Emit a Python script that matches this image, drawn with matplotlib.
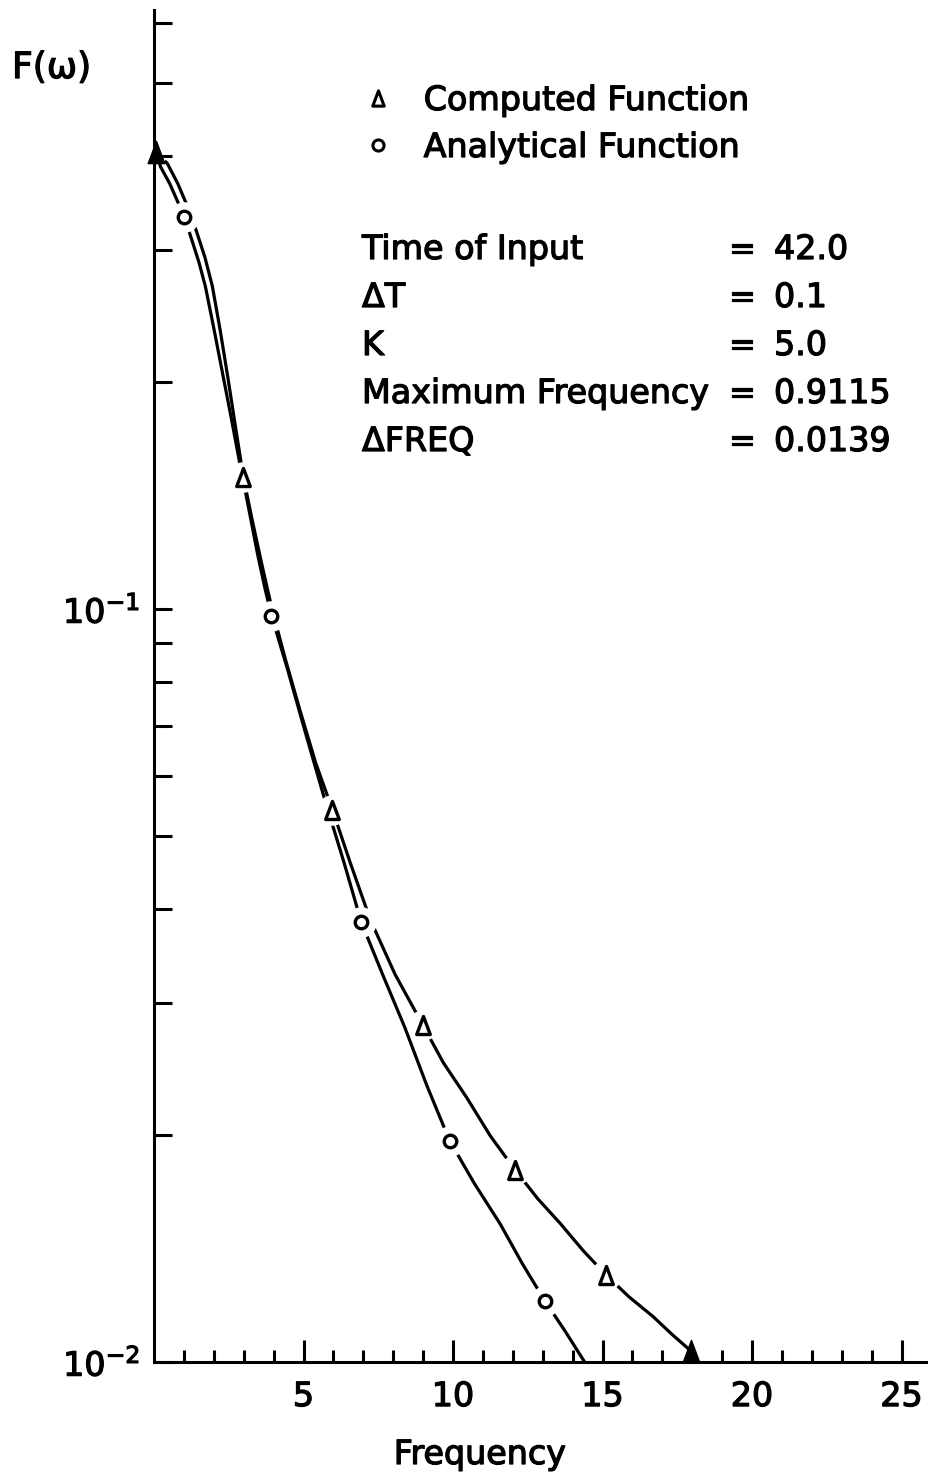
import matplotlib
matplotlib.use('Agg')
import matplotlib.pyplot as plt
import matplotlib.patheffects as pe
from matplotlib.lines import Line2D
from matplotlib.path import Path
from matplotlib.ticker import FixedLocator, LogFormatterMathtext

# ---- data ----
# computed function: curve and triangle markers
comp_curve_x = [0.075, 0.449, 0.794, 1.106, 1.421, 1.702, 1.951, 2.207, 2.467, 2.726,
                2.987, 3.276, 3.600, 3.959, 4.385, 4.880, 5.410, 5.969, 6.565, 7.230,
                8.061, 8.991, 9.679, 10.456, 11.252, 12.081, 12.836, 13.589, 14.343,
                15.123, 15.890, 16.690, 17.324, 17.958]
comp_curve_y = [0.4046, 0.3903, 0.3673, 0.3435, 0.3173, 0.2932, 0.2684, 0.2353, 0.2033, 0.1745,
                0.1498, 0.1317, 0.1149, 0.0995, 0.0860, 0.0734, 0.0624, 0.0541, 0.0460, 0.0387,
                0.03272, 0.02802, 0.02496, 0.02245, 0.01995, 0.01798, 0.01647, 0.01527, 0.01407,
                0.01304, 0.01220, 0.01149, 0.01088, 0.01034]
comp_tri_x = [0.075, 2.987, 5.969, 8.991, 12.081, 15.123, 17.958]
comp_tri_y = [0.4046, 0.1498, 0.0541, 0.02802, 0.01798, 0.01304, 0.01034]
comp_filled = [True, False, False, False, False, False, True]

# analytical function: curve and circle markers
anal_curve_x = [0.075, 0.217, 0.526, 0.804, 1.012, 1.258, 1.504, 1.717, 2.007, 2.298,
                2.589, 2.880, 3.170, 3.461, 3.713, 3.928, 4.457, 5.059, 5.695, 6.365,
                6.930, 7.660, 8.390, 9.122, 9.887, 10.714, 11.582, 12.307, 13.068,
                13.754, 14.401]
anal_curve_y = [0.4046, 0.3867, 0.3672, 0.3466, 0.3320, 0.3097, 0.2886, 0.2683, 0.2352, 0.2051,
                0.1788, 0.1553, 0.1358, 0.1184, 0.1064, 0.0980, 0.0834, 0.0686, 0.0561, 0.0459,
                0.0384, 0.0326, 0.0278, 0.0233, 0.01967, 0.01726, 0.01524, 0.01353, 0.01206,
                0.01098, 0.0100]
anal_circ_x = [1.012, 3.928, 6.930, 9.887, 13.068]
anal_circ_y = [0.3320, 0.0980, 0.0384, 0.01967, 0.01206]

x_major = [5, 10, 15, 20, 25]
x_minor = [i for i in range(1, 25) if i % 5 != 0]
y_major = [0.01, 0.1]
y_minor = [0.02, 0.03, 0.04, 0.05, 0.06, 0.07, 0.08, 0.09, 0.2, 0.3, 0.4, 0.5, 0.6]

param_names = ['Time of Input', 'ΔT', 'K', 'Maximum Frequency', 'ΔFREQ']
param_values = ['42.0', '0.1', '5.0', '0.9115', '0.0139']

plt.rcParams['font.family'] = ['DejaVu Sans']
plt.rcParams['mathtext.fontset'] = 'dejavusans'

W, H = 929, 1479
def fx(x):
    return x / W
def fy(y):
    return 1 - y / H

# slightly heavier strokes, like the lettering-guide text of the original
ink = [pe.withStroke(linewidth=0.9, foreground='black')]
FS = 24

fig = plt.figure(figsize=(W / 100, H / 100), dpi=100)
ax = fig.add_axes([154 / W, 117 / H, 773 / W, 1352 / H])
ax.set_yscale('log')
ax.set_xlim(0, 25.85)
ax.set_ylim(0.01, 0.6244)

# tall triangle like the hand-drawn ones
tri = Path([(-0.75, -1), (0.75, -1), (0, 1), (-0.75, -1)], closed=True)

ax.plot(comp_curve_x, comp_curve_y, color='black', lw=2.3, zorder=1.0)
ax.plot(anal_curve_x, anal_curve_y, color='black', lw=2.3, zorder=1.0)

# white halos leave the gaps in the lines round each marker
open_x = [x for x, f in zip(comp_tri_x, comp_filled) if not f]
open_y = [y for y, f in zip(comp_tri_y, comp_filled) if not f]
ax.plot(open_x + anal_circ_x, open_y + anal_circ_y, ls='none', marker='o', ms=21,
        mfc='white', mec='white', zorder=1.2)
ax.plot(comp_tri_x[:1], comp_tri_y[:1], ls='none', marker='o', ms=16,
        mfc='white', mec='white', zorder=1.2)

ax.plot(open_x, open_y, ls='none', marker=tri, ms=13, mfc='white', mec='black',
        mew=2.4, zorder=3)
ax.plot(anal_circ_x, anal_circ_y, ls='none', marker='o', ms=9, mfc='white', mec='black',
        mew=2.4, zorder=3)
fill_x = [x for x, f in zip(comp_tri_x, comp_filled) if f]
fill_y = [y for y, f in zip(comp_tri_y, comp_filled) if f]
ax.plot(fill_x, fill_y, ls='none', marker=tri, ms=16, mfc='black', mec='black',
        mew=1, zorder=3, clip_on=False)

# axes
for s in ['top', 'right']:
    ax.spines[s].set_visible(False)
for s in ['left', 'bottom']:
    ax.spines[s].set_linewidth(2.2)

ax.xaxis.set_major_locator(FixedLocator(x_major))
ax.xaxis.set_minor_locator(FixedLocator(x_minor))
ax.yaxis.set_major_locator(FixedLocator(y_major))
ax.yaxis.set_minor_locator(FixedLocator(y_minor))
ax.yaxis.set_major_formatter(LogFormatterMathtext())
ax.yaxis.set_minor_formatter(plt.NullFormatter())

ax.tick_params(axis='x', which='major', direction='in', length=15.8, width=2.2,
               pad=13, labelsize=FS)
ax.tick_params(axis='x', which='minor', direction='in', length=8.6, width=2.2)
ax.tick_params(axis='y', which='both', direction='in', length=13, width=2.2,
               pad=10, labelsize=FS)
for lab in ax.get_xticklabels() + ax.get_yticklabels():
    lab.set_path_effects(ink)

ax.set_xlabel('Frequency', fontsize=FS, path_effects=ink)
ax.xaxis.set_label_coords((480 - 154) / 773, (1362 - 1438) / 1352)
ax.set_ylabel('F(ω)', fontsize=26, rotation=0, ha='left', va='baseline', path_effects=ink)
ax.yaxis.set_label_coords((12 - 154) / 773, (1362 - 78) / 1352)

# legend
handles = [Line2D([], [], ls='none', marker=tri, ms=11, mfc='white', mec='black', mew=2.2),
           Line2D([], [], ls='none', marker='o', ms=8, mfc='white', mec='black', mew=2.2)]
leg = ax.legend(handles, ['Computed Function', 'Analytical Function'], loc='upper left',
                bbox_to_anchor=(fx(361), fy(84)), bbox_transform=fig.transFigure,
                frameon=False, fontsize=FS, handlelength=1.0, handletextpad=0.88,
                labelspacing=0.42, borderpad=0, borderaxespad=0)
for t in leg.get_texts():
    t.set_path_effects(ink)

# run parameters
base = 259
for i, (name, val) in enumerate(zip(param_names, param_values)):
    yb = base + 48 * i
    fig.text(fx(362), fy(yb), name, fontsize=FS, va='baseline', ha='left', path_effects=ink)
    fig.text(fx(742), fy(yb), '=', fontsize=FS, va='baseline', ha='center', path_effects=ink)
    fig.text(fx(774), fy(yb), val, fontsize=FS, va='baseline', ha='left', path_effects=ink)

fig.savefig('out.png', dpi=100, facecolor='white')
